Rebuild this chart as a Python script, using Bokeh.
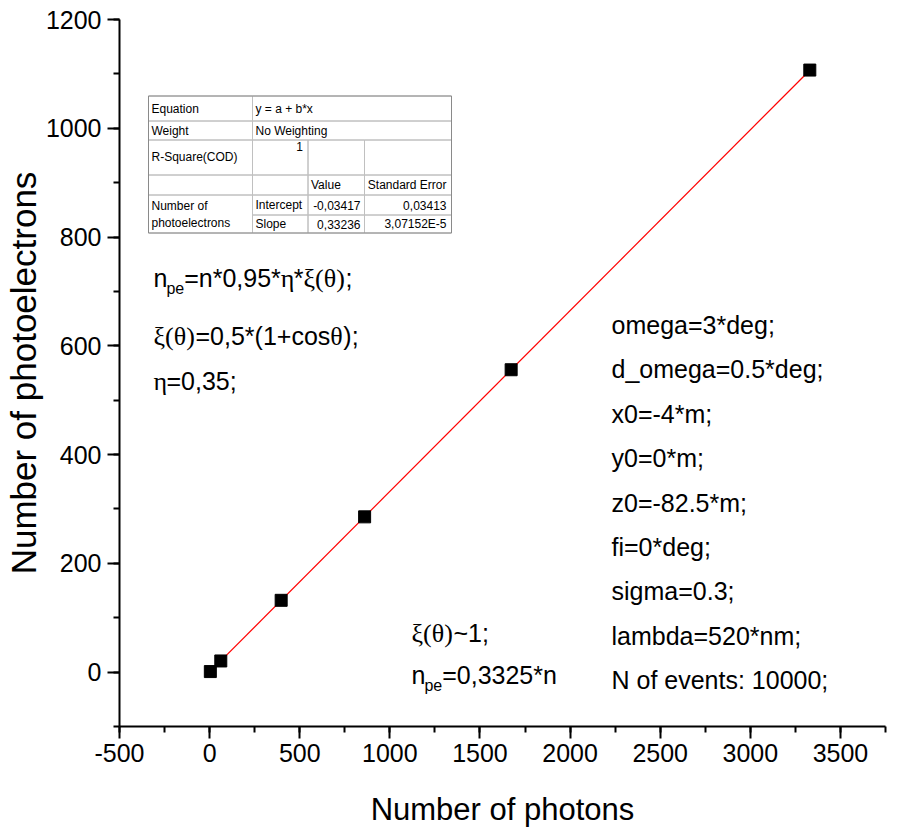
from bokeh.plotting import figure
from bokeh.models import Range1d, SingleIntervalTicker, Label, BoxAnnotation, NumeralTickFormatter
from bokeh.embed import file_html
from bokeh.resources import INLINE

# ---------------- data ----------------
photons = [4, 62, 397, 860, 1673, 3330]
photoelectrons = [1, 20.5, 132, 285.5, 556, 1107]

fit_intercept = -0.03417
fit_slope = 0.33236
fit_intercept_err = "0,03413"
fit_slope_err = "3,07152E-5"
r_square = "1"

x_ticks_interval = 500
y_ticks_interval = 200
X0, X1 = -500, 3750
Y0, Y1 = -100, 1200

right_notes = ["omega=3*deg;", "d_omega=0.5*deg;", "x0=-4*m;", "y0=0*m;", "z0=-82.5*m;",
               "fi=0*deg;", "sigma=0.3;", "lambda=520*nm;", "N of events: 10000;"]
# formula pieces: (text, kind) kind: s = sans, g = serif (Greek), sub = subscript
note_line1 = [("n", "s"), ("pe", "sub"), ("=n*0,95*", "s"), ("\u03b7", "g"), ("*", "s"),
              ("\u03be(\u03b8)", "g"), (";", "s")]
note_line2 = [("\u03be(\u03b8)", "g"), ("=0,5*(1+cos", "s"), ("\u03b8", "g"), (");", "s")]
note_line3 = [("\u03b7", "g"), ("=0,35;", "s")]
note_line4 = [("\u03be(\u03b8)", "g"), ("~1;", "s")]
note_line5 = [("n", "s"), ("pe", "sub"), ("=0,3325*n", "s")]

# ---------------- layout helpers (page pixels -> data, for annotation placement) ----------------
FR_L, FR_T, FR_W, FR_H = 121.0, 20.5, 766.0, 707.0


def dx(px):
    return X0 + (px - FR_L) / FR_W * (X1 - X0)


def dy(py):
    return Y1 - (py - FR_T) / FR_H * (Y1 - Y0)


FONT = "Liberation Sans"
SERIF = "Liberation Serif"

p = figure(frame_width=766, frame_height=707, output_backend="svg", toolbar_location=None,
           x_range=Range1d(X0, X1), y_range=Range1d(Y0, Y1),
           min_border_left=115, min_border_right=2, min_border_top=19, min_border_bottom=60)
p.outline_line_color = None
p.xgrid.visible = False
p.ygrid.visible = False
p.background_fill_color = "white"
p.border_fill_color = "white"

p.xaxis.ticker = SingleIntervalTicker(interval=x_ticks_interval, num_minor_ticks=2)
p.yaxis.ticker = SingleIntervalTicker(interval=y_ticks_interval, num_minor_ticks=2)
p.xaxis.formatter = NumeralTickFormatter(format="0")
p.yaxis.formatter = NumeralTickFormatter(format="0")

for ax in (p.xaxis[0], p.yaxis[0]):
    ax.axis_line_width = 2
    ax.axis_line_color = "black"
    ax.major_tick_line_width = 2
    ax.minor_tick_line_width = 2
    ax.major_tick_line_color = "black"
    ax.minor_tick_line_color = "black"
    ax.major_tick_in = 0
    ax.major_tick_out = 12
    ax.minor_tick_in = 0
    ax.minor_tick_out = 6
    ax.major_label_text_font = FONT
    ax.major_label_text_font_size = "25px"
    ax.major_label_text_color = "black"
    ax.axis_label_text_font = FONT
    ax.axis_label_text_font_style = "normal"
    ax.axis_label_text_color = "black"

p.xaxis.axis_label = "Number of photons"
p.xaxis.axis_label_text_font_size = "31px"
p.xaxis.major_label_standoff = 5
p.xaxis.axis_label_standoff = 27
p.yaxis.axis_label = "Number of photoelectrons"
p.yaxis.axis_label_text_font_size = "35px"
p.yaxis.major_label_standoff = 6
p.yaxis.axis_label_standoff = 0

# fit line (from table parameters) and data points
fit_x = [min(photons), max(photons)]
fit_y = [fit_intercept + fit_slope * v for v in fit_x]
p.line(fit_x, fit_y, color="#ff0000", line_width=1.2)
p.scatter(photons, photoelectrons, marker="square", size=12, color="black")

# ---------------- fit table ----------------
c0, c1, c2, c3, c4 = 150, 254, 309.5, 366, 453
r0, r1, r2, r3, r4, r5, r6 = 97, 122, 141, 176, 196, 216, 234
cells = [
    (c0, c1, r0, r1), (c1, c4, r0, r1),
    (c0, c1, r1, r2), (c1, c4, r1, r2),
    (c0, c1, r2, r3), (c1, c2, r2, r3), (c2, c3, r2, r3), (c3, c4, r2, r3),
    (c0, c1, r3, r4), (c1, c2, r3, r4), (c2, c3, r3, r4), (c3, c4, r3, r4),
    (c0, c1, r4, r6),
    (c1, c2, r4, r5), (c2, c3, r4, r5), (c3, c4, r4, r5),
    (c1, c2, r5, r6), (c2, c3, r5, r6), (c3, c4, r5, r6),
]
for (l, r, t, b) in cells:
    p.add_layout(BoxAnnotation(left=dx(l), right=dx(r), top=dy(t), bottom=dy(b),
                               fill_alpha=0, line_color="#c0c0c0", line_width=1, line_alpha=1))
p.add_layout(BoxAnnotation(left=dx(c0), right=dx(c4), top=dy(r0), bottom=dy(r6),
                           fill_alpha=0, line_color="#8a8a8a", line_width=1, line_alpha=1))


def fmt(v):
    return f"{v:.5f}".replace(".", ",")


table_text = [
    ("Equation", c0 + 3, 110, "left"),
    ("y = a + b*x", c1 + 3, 110, "left"),
    ("Weight", c0 + 3, 132, "left"),
    ("No Weighting", c1 + 3, 132, "left"),
    ("R-Square(COD)", c0 + 3, 158, "left"),
    (r_square, c2 - 5, 147, "right"),
    ("Value", c2 + 3, 186, "left"),
    ("Standard Error", c4 - 5, 186, "right"),
    ("Number of", c0 + 3, 207, "left"),
    ("photoelectrons", c0 + 3, 224, "left"),
    ("Intercept", c1 + 3, 206, "left"),
    (fmt(fit_intercept), c3 - 4, 206, "right"),
    (fit_intercept_err, c4 - 5, 206, "right"),
    ("Slope", c1 + 3, 225, "left"),
    (fmt(fit_slope), c3 - 4, 225, "right"),
    (fit_slope_err, c4 - 5, 225, "right"),
]
for (t, px, py, al) in table_text:
    p.add_layout(Label(x=dx(px), y=dy(py), text=t, text_font=FONT, text_font_size="12px",
                       text_align=al, text_baseline="middle", text_color="black"))

# ---------------- formula notes (mixed sans / serif pieces) ----------------
SANS_W = {'=': 584, 'n': 556, '*': 389, ',': 278, ';': 278, '(': 333, ')': 333, '+': 584,
          'c': 500, 'o': 556, 's': 500, '~': 584, 'p': 556, 'e': 556, '.': 278}
for d in "0123456789":
    SANS_W[d] = 556
SERIF_W = {'(': 333, ')': 333, '\u03be': 450, '\u03b8': 500, '\u03b7': 500}
SIZES = {"s": 25, "g": 26, "sub": 16}


def width(t, kind):
    table = SERIF_W if kind == "g" else SANS_W
    return sum(table.get(ch, 556) for ch in t) / 1000.0 * SIZES[kind]


def formula(parts, px, base_py):
    cur = px
    for (t, kind) in parts:
        py = base_py + (10 if kind == "sub" else 0)
        p.add_layout(Label(x=dx(cur), y=dy(py), text=t,
                           text_font=SERIF if kind == "g" else FONT,
                           text_font_size=f"{SIZES[kind]}px",
                           text_align="left", text_baseline="alphabetic", text_color="black"))
        w = width(t, kind)
        if t == "n" and kind == "s":
            w -= 1
        cur += w


formula(note_line1, 155, 279)
formula(note_line2, 155, 337)
formula(note_line3, 155, 382)
formula(note_line4, 413, 634)
formula(note_line5, 413, 676)

# right notes
for i, t in enumerate(right_notes):
    p.add_layout(Label(x=dx(613), y=dy(326 + 44.4 * i), text=t, text_font=FONT, text_font_size="25px",
                       text_align="left", text_baseline="middle", text_color="black"))

open("out.html", "w").write(file_html(p, INLINE))
